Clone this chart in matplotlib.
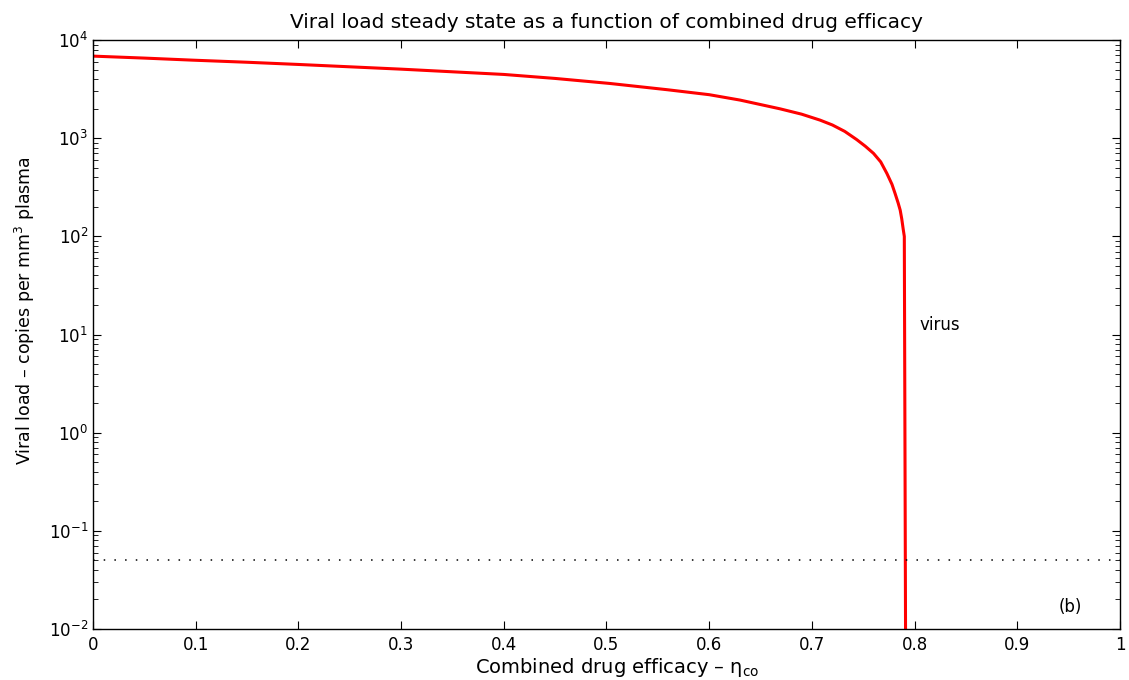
import matplotlib.pyplot as plt
import numpy as np

plt.rcParams['font.family'] = ['DejaVu Sans']
plt.rcParams['mathtext.fontset'] = 'dejavusans'

# steady state viral load
eta = [0.0, 0.05, 0.097, 0.15, 0.2, 0.3, 0.4, 0.45, 0.503, 0.559, 0.6,
       0.630, 0.669, 0.69, 0.708, 0.72, 0.732, 0.7436, 0.752, 0.760,
       0.767, 0.773, 0.778, 0.781, 0.784, 0.786, 0.7875, 0.789, 0.790,
       0.7915]
virus = [6870, 6560, 6250, 5950, 5650, 5060, 4470, 4070, 3620, 3125, 2780,
         2450, 1995, 1760, 1530, 1365, 1175, 970, 830, 702,
         575, 439, 339, 274, 219, 185, 151, 117, 100,
         0.001]

# detection limit
limit = 0.05

fig = plt.figure(figsize=(11.29, 6.8), dpi=100)
ax = fig.add_axes([0.0824, 0.075, 0.9096, 0.866])

ax.semilogy(eta, virus, '-', color='red', lw=2.2)
ax.plot([0, 1], [limit, limit], color='black', lw=1.1,
        linestyle=(0, (1, 6.0)))

ax.set_xlim(0, 1)
ax.set_ylim(1e-2, 1e4)
ax.set_xticks(np.arange(0, 1.01, 0.1))
ax.set_xticklabels(['0', '0.1', '0.2', '0.3', '0.4', '0.5', '0.6',
                    '0.7', '0.8', '0.9', '1'])
ax.tick_params(which='both', direction='in', top=True, right=True,
               labelsize=12)
ax.tick_params(which='major', length=6)
ax.tick_params(which='minor', length=3.5)
ax.tick_params(axis='x', which='minor', bottom=False, top=False)
ax.tick_params(axis='x', pad=5)
for s in ax.spines.values():
    s.set_linewidth(1.0)

ax.text(0.805, 12.5, 'virus', fontsize=12, va='center', ha='left')
ax.text(0.94, 0.0168, '(b)', fontsize=12, va='center', ha='left')

ax.set_title('Viral load steady state as a function of combined drug efficacy',
             fontsize=14.5, pad=9)
ax.set_xlabel('Combined drug efficacy \u2013 \u03b7$_{\\mathrm{co}}$',
              fontsize=14, labelpad=0)
ax.set_ylabel('Viral load \u2013 copies per mm$^3$ plasma', fontsize=12.5)
ax.xaxis.set_label_coords(0.51, -0.046)
ax.xaxis.label.set_va('top')
ax.yaxis.set_label_coords(-0.055, 0.54)

plt.savefig('out.png', dpi=100)
